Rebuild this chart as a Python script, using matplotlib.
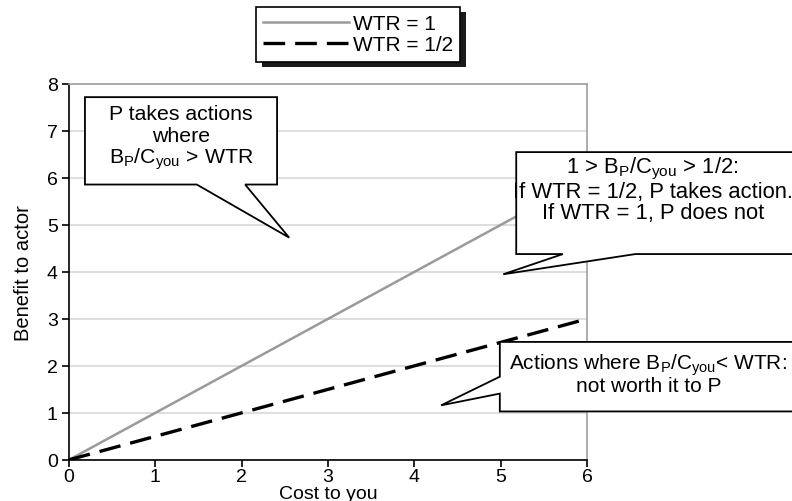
import numpy as np
import matplotlib
matplotlib.use('Agg')
import matplotlib.pyplot as plt
from matplotlib.patches import Polygon, Rectangle

plt.rcParams['font.family'] = ['Liberation Sans', 'DejaVu Sans']
plt.rcParams['mathtext.fontset'] = 'custom'
plt.rcParams['mathtext.rm'] = 'Liberation Sans'
plt.rcParams['mathtext.it'] = 'Liberation Sans:italic'

# Data
cost = [0, 1, 2, 3, 4, 5, 6]
benefit_wtr1 = [0, 1, 2, 3, 4, 5, 6]
benefit_wtr_half = [0, 0.5, 1, 1.5, 2, 2.5, 3]
labels = ['WTR = 1', 'WTR = 1/2']

FS = 15


def callout(ax, pts, lines, cx, ys, fs=FS):
    """Draw a speech-bubble style box (polygon in data coords) with centred text"""
    poly = Polygon(pts, closed=True, facecolor='white', edgecolor='k',
                   linewidth=1.3, zorder=5, clip_on=False, joinstyle='miter')
    ax.add_patch(poly)
    for txt, y in zip(lines, ys):
        ax.text(cx, y, txt, ha='center', va='center', fontsize=fs, zorder=6,
                clip_on=False)


fig = plt.figure(figsize=(7.92, 5.02), dpi=100)
ax = fig.add_axes([0.0871, 0.082, 0.6541, 0.7487])

ax.plot(cost, benefit_wtr1, color='#9a9a9a', linewidth=1.8, label=labels[0],
        zorder=3)
ax.plot(cost, benefit_wtr_half, color='k', linewidth=2.4, dashes=(6.5, 3),
        label=labels[1], zorder=3)

ax.set_xlim(0, 6)
ax.set_ylim(0, 8)
ax.set_xticks(range(0, 7))
ax.set_yticks(range(0, 9))
ax.yaxis.grid(True, color='#d8d8d8', linewidth=1.2)
ax.set_axisbelow(True)
for s in ['top', 'right']:
    ax.spines[s].set_color('#a0a0a0')
    ax.spines[s].set_linewidth(1.2)
for s in ['left', 'bottom']:
    ax.spines[s].set_color('k')
    ax.spines[s].set_linewidth(1.2)
ax.tick_params(direction='out', length=5, width=1.2, labelsize=FS - 1)
ax.tick_params(axis='x', pad=1)
ax.tick_params(axis='y', pad=3)
ax.set_xlabel('Cost to you', fontsize=FS - 1, labelpad=0)
ax.set_ylabel('Benefit to actor', fontsize=FS - 0.5, labelpad=10)

leg = fig.legend(loc='upper center', bbox_to_anchor=(0.452, 0.985),
                 frameon=True, fancybox=False, framealpha=1, fontsize=FS,
                 handlelength=4.1, handletextpad=0.2, labelspacing=0.12,
                 borderpad=0.35, borderaxespad=0)
leg.get_frame().set_edgecolor('k')
leg.get_frame().set_linewidth(1.2)

# solid black drop shadow behind the legend box
fig.canvas.draw()
bb = leg.get_window_extent().transformed(fig.transFigure.inverted())
dx, dy = 6 / 792, 5 / 502
fig.add_artist(Rectangle((bb.x0 + dx, bb.y0 - dy), bb.width, bb.height,
                         transform=fig.transFigure, facecolor='#1a1a1a',
                         edgecolor='none', zorder=leg.get_zorder() - 0.1))

# Callout 1: upper left
callout(ax, [(0.185, 7.72), (2.41, 7.72), (2.41, 5.86), (2.04, 5.86),
             (2.55, 4.73), (1.48, 5.86), (0.185, 5.86)],
        ['P takes actions', 'where',
         r'B$_\mathrm{P}$/C$_\mathrm{you}$ > WTR'],
        1.30, [7.37, 6.90, 6.42], fs=FS + 0.3)

# Callout 2: right, between the lines
callout(ax, [(5.18, 6.55), (8.6, 6.55), (8.6, 4.38), (6.56, 4.38),
             (5.03, 3.95), (5.72, 4.38), (5.18, 4.38)],
        [r'1 > B$_\mathrm{P}$/C$_\mathrm{you}$ > 1/2:',
         'If WTR = 1/2, P takes action.', 'If WTR = 1, P does not'],
        6.76, [6.22, 5.72, 5.26], fs=FS + 0.8)

# Callout 3: lower right
callout(ax, [(4.99, 2.51), (8.6, 2.51), (8.6, 1.03), (4.99, 1.03),
             (4.99, 1.41), (4.31, 1.16), (4.99, 1.77)],
        [r'Actions where B$_\mathrm{P}$/C$_\mathrm{you}$< WTR:',
         'not worth it to P'],
        6.71, [2.04, 1.58])

fig.savefig('out.png', dpi=100)
